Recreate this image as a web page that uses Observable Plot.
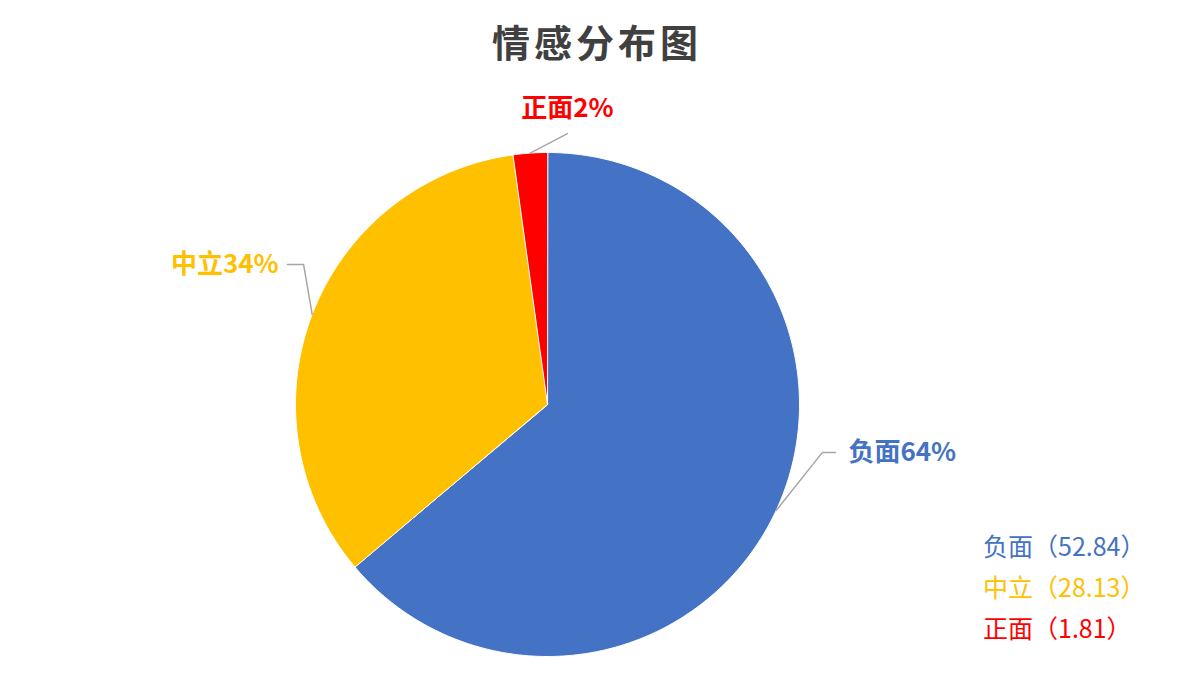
<!DOCTYPE html>
<html><head><meta charset="utf-8">
<script src="https://cdn.jsdelivr.net/npm/d3@7"></script>
<script src="https://cdn.jsdelivr.net/npm/@observablehq/plot@0.6"></script>
<style>
body{margin:0;background:#fff;width:1200px;height:692px;overflow:hidden;position:relative;font-family:"Noto Sans CJK SC",sans-serif;}
#title{height:80px;display:flex;align-items:center;justify-content:center;font-size:38px;font-weight:bold;color:#404040;letter-spacing:4px;padding-right:6px;box-sizing:border-box;}
#chart{height:612px;}
#legend{position:absolute;left:983px;top:525px;font-size:25px;line-height:41px;}
</style></head><body>
<div id="title">情感分布图</div>
<div id="chart"></div>
<div id="legend"></div>
<script>
// ---- data ----
const categories = ["负面", "中立", "正面"];
const values = [52.84, 28.13, 1.81];
const colors = ["#4472C4", "#FFC000", "#FF0000"];
// label leader layout (in pie-radius units): elbow point, horizontal end, text anchor
const leaderElbow = [[1.091, -0.19], [-0.968, 0.556], [0.079, 1.075]];
const leaderEnd   = [[1.143, -0.19], [-1.032, 0.556], null];
const labelPos    = [[1.194, -0.19, "start"], [-1.067, 0.556, "end"], [0.079, 1.175, "middle"]];

// ---- build ----
const total = d3.sum(values);
const arcs = d3.pie().sort(null).value(d => d)(values);
const slicePts = [];
arcs.forEach((a, i) => {
  const name = categories[i];
  slicePts.push({name, x: 0, y: 0});
  const n = Math.max(2, Math.ceil((a.endAngle - a.startAngle) / (Math.PI / 360)));
  for (let k = 0; k <= n; k++) {
    const t = a.startAngle + (a.endAngle - a.startAngle) * k / n;
    slicePts.push({name, x: Math.sin(t), y: Math.cos(t)});
  }
});
const leaderPts = [];
arcs.forEach((a, i) => {
  const name = categories[i];
  const m = (a.startAngle + a.endAngle) / 2;
  leaderPts.push({name, x: Math.sin(m), y: Math.cos(m)});
  leaderPts.push({name, x: leaderElbow[i][0], y: leaderElbow[i][1]});
  if (leaderEnd[i]) leaderPts.push({name, x: leaderEnd[i][0], y: leaderEnd[i][1]});
});
const fmt = d3.format(".0%");
const labels = categories.map((c, i) => ({
  name: c, text: c + fmt(values[i] / total),
  x: labelPos[i][0], y: labelPos[i][1], anchor: labelPos[i][2]
}));

const chart = Plot.plot({
  width: 1200, height: 612,
  marginLeft: 295, marginRight: 401, marginTop: 72, marginBottom: 36,
  x: {domain: [-1, 1], axis: null},
  y: {domain: [-1, 1], axis: null},
  color: {domain: categories, range: colors},
  style: {fontFamily: '"Noto Sans CJK SC", sans-serif', background: "white", overflow: "visible"},
  marks: [
    Plot.line(slicePts, {x: "x", y: "y", z: "name", fill: "name", stroke: "white", strokeWidth: 1, curve: "linear-closed"}),
    Plot.line(leaderPts, {x: "x", y: "y", z: "name", stroke: "#A6A6A6", strokeWidth: 1.5}),
    ...["start", "end", "middle"].map(anc =>
      Plot.text(labels.filter(d => d.anchor === anc), {x: "x", y: "y", text: "text", fill: "name", textAnchor: anc, fontSize: 26, fontWeight: "bold"}))
  ]
});
document.getElementById("chart").appendChild(chart);

const legend = document.getElementById("legend");
categories.forEach((c, i) => {
  const div = document.createElement("div");
  div.style.color = colors[i];
  div.textContent = c + "（" + values[i] + "）";
  legend.appendChild(div);
});
</script>
</body></html>
